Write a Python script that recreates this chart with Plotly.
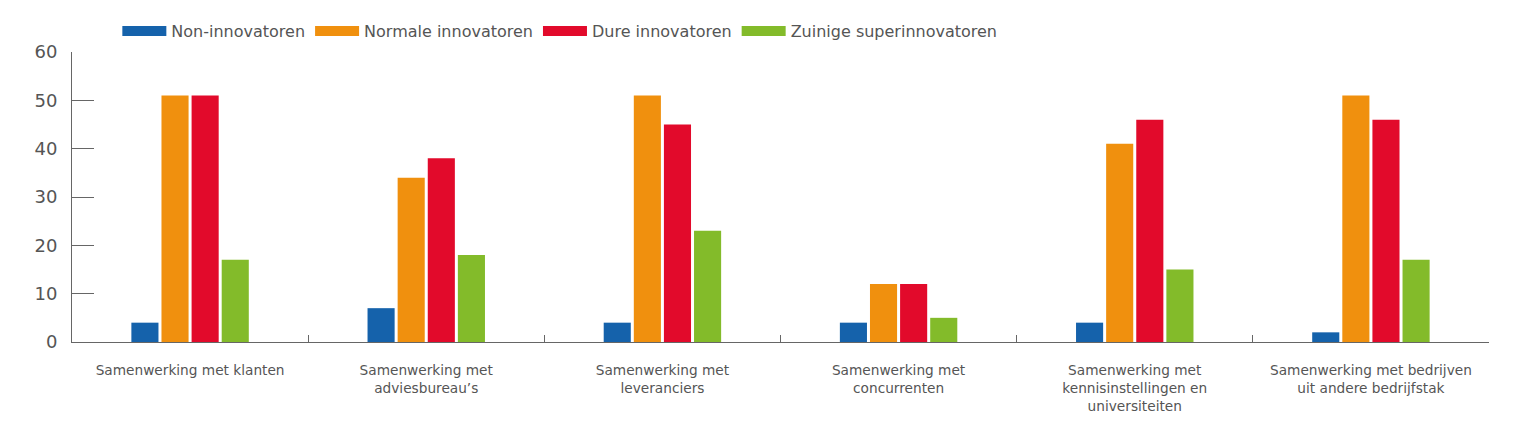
import plotly.graph_objects as go

categories = [
    "Samenwerking met klanten",
    "Samenwerking met<br>adviesbureau’s",
    "Samenwerking met<br>leveranciers",
    "Samenwerking met<br>concurrenten",
    "Samenwerking met<br>kennisinstellingen en<br>universiteiten",
    "Samenwerking met bedrijven<br>uit andere bedrijfstak",
]
series_names = ["Non-innovatoren", "Normale innovatoren", "Dure innovatoren", "Zuinige superinnovatoren"]
non_innovatoren = [4, 7, 4, 4, 4, 2]
normale_innovatoren = [51, 34, 51, 12, 41, 51]
dure_innovatoren = [51, 38, 45, 12, 46, 46]
zuinige_superinnovatoren = [17, 18, 23, 5, 15, 17]
y_ticks = [0, 10, 20, 30, 40, 50, 60]

colors = ["#1562AB", "#F0900E", "#E20A2B", "#83BB2A"]
values = [non_innovatoren, normale_innovatoren, dure_innovatoren, zuinige_superinnovatoren]

fig = go.Figure()
for name, vals, col in zip(series_names, values, colors):
    fig.add_trace(go.Bar(
        x=categories, y=vals, name=name, showlegend=False,
        marker=dict(color=col, line=dict(width=0)),
    ))
# legend-only entries drawn as thick lines (pill-like swatches)
for name, col in zip(series_names, colors):
    fig.add_trace(go.Scatter(
        x=[None], y=[None], mode="lines", name=name,
        line=dict(color=col, width=14),
        showlegend=True,
    ))

grey = "#555555"
fig.update_layout(
    width=1527, height=434,
    margin=dict(l=72, r=38, t=52, b=92),
    paper_bgcolor="white", plot_bgcolor="white",
    font=dict(family="DejaVu Sans, Verdana, sans-serif", color=grey),
    barmode="group", bargap=0.49, bargroupgap=0.1,
    legend=dict(
        orientation="h", x=0.032, xanchor="left", y=1.072, yanchor="middle",
        font=dict(size=16, color=grey), itemwidth=44,
        traceorder="normal",
    ),
    xaxis=dict(
        type="category", showline=True, linecolor="#666666", linewidth=1,
        ticks="inside", ticklen=7, tickcolor="#666666", tickson="boundaries",
        tickfont=dict(size=13.7, color=grey), showgrid=False,
        ticklabelstandoff=16,
    ),
    yaxis=dict(
        range=[0, 60], tickvals=y_ticks, showline=True, linecolor="#666666", linewidth=1,
        ticks="inside", ticklen=22, tickcolor="#666666",
        tickfont=dict(size=18, color=grey), showgrid=False, zeroline=False,
        ticklabelstandoff=10,
    ),
)

fig.write_html("out.html")
